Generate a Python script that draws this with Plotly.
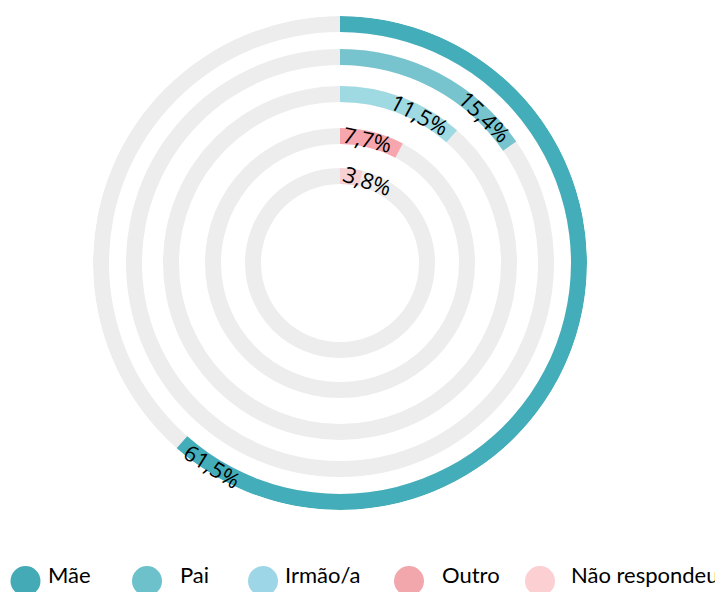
import math
import plotly.graph_objects as go

# ---- data ----
categories = ["Mãe", "Pai", "Irmão/a", "Outro", "Não respondeu"]
values = [61.5, 15.4, 11.5, 7.7, 3.8]
value_labels = ["61,5%", "15,4%", "11,5%", "7,7%", "3,8%"]

# ---- style / layout ----
ring_colors = ["#43AEBA", "#77C4CE", "#9FDAE2", "#F8A6AD", "#F6D0D3"]
legend_colors = ["#43AAB6", "#6CC1CB", "#9DD6E6", "#F2A7AD", "#FCCFD2"]
track_color = "#EDEDED"
ring_inner = [231, 198, 161, 119, 79]   # px radii (radial axis in px units)
ring_thick = 16
R_MAX = 247
OFF = 8                     # page body margin
W, H = 723 - OFF, 592 - OFF
CX, CY = 340, 263           # page pixel centre


def px2x(px):
    return (px - OFF) / W


def py2y(py):
    return 1 - (py - OFF) / H


fig = go.Figure()

# background tracks
for i, cat in enumerate(categories):
    fig.add_trace(go.Barpolar(
        r=[ring_thick], base=[ring_inner[i]], theta=[180], width=[360],
        marker=dict(color=track_color, line=dict(width=0)),
        showlegend=False, hoverinfo="skip"))

# value arcs
for i, cat in enumerate(categories):
    ang = values[i] * 3.6
    fig.add_trace(go.Barpolar(
        r=[ring_thick], base=[ring_inner[i]], theta=[ang / 2], width=[ang],
        marker=dict(color=ring_colors[i], line=dict(width=0)),
        name=cat, showlegend=False,
        hovertemplate=cat + ": " + value_labels[i] + "<extra></extra>"))

fig.update_layout(
    width=W, height=H,
    margin=dict(l=0, r=0, t=0, b=0),
    paper_bgcolor="white",
    polar=dict(
        domain=dict(x=[px2x(CX - R_MAX), px2x(CX + R_MAX)],
                    y=[py2y(CY + R_MAX), py2y(CY - R_MAX)]),
        bgcolor="white",
        bargap=0,
        radialaxis=dict(range=[0, R_MAX], visible=False, showgrid=False),
        angularaxis=dict(rotation=90, direction="clockwise", visible=False,
                         showgrid=False),
    ),
)

# value labels along the arcs
annotations = []
for i, lab in enumerate(value_labels):
    rmid = ring_inner[i] + ring_thick / 2
    end_len = math.radians(values[i] * 3.6) * rmid
    c_len = max(end_len - 39, 28)
    th = math.degrees(c_len / rmid)
    px = CX + rmid * math.sin(math.radians(th))
    py = CY - rmid * math.cos(math.radians(th))
    ta = th if (th <= 90 or th >= 270) else th - 180
    annotations.append(dict(
        x=px2x(px), y=py2y(py), xref="paper", yref="paper",
        text=lab, showarrow=False, textangle=ta,
        font=dict(family="Open Sans", size=22, color="black"),
        xanchor="center", yanchor="middle"))

# custom legend
leg_circle_x = [25.5, 147, 263, 409, 540]
leg_text_x = [46, 178, 283, 440, 569]
leg_cy = 581
leg_r = 15
shapes = []
for i, cat in enumerate(categories):
    shapes.append(dict(
        type="circle", xref="paper", yref="paper",
        x0=px2x(leg_circle_x[i] - leg_r), x1=px2x(leg_circle_x[i] + leg_r),
        y0=py2y(leg_cy + leg_r), y1=py2y(leg_cy - leg_r),
        fillcolor=legend_colors[i], line=dict(width=0)))
    annotations.append(dict(
        x=px2x(leg_text_x[i]), y=py2y(590), xref="paper", yref="paper",
        text=cat, showarrow=False, xanchor="left", yanchor="bottom",
        font=dict(family="Lato", size=22, color="black")))

fig.update_layout(annotations=annotations, shapes=shapes)
fig.write_html("out.html")
